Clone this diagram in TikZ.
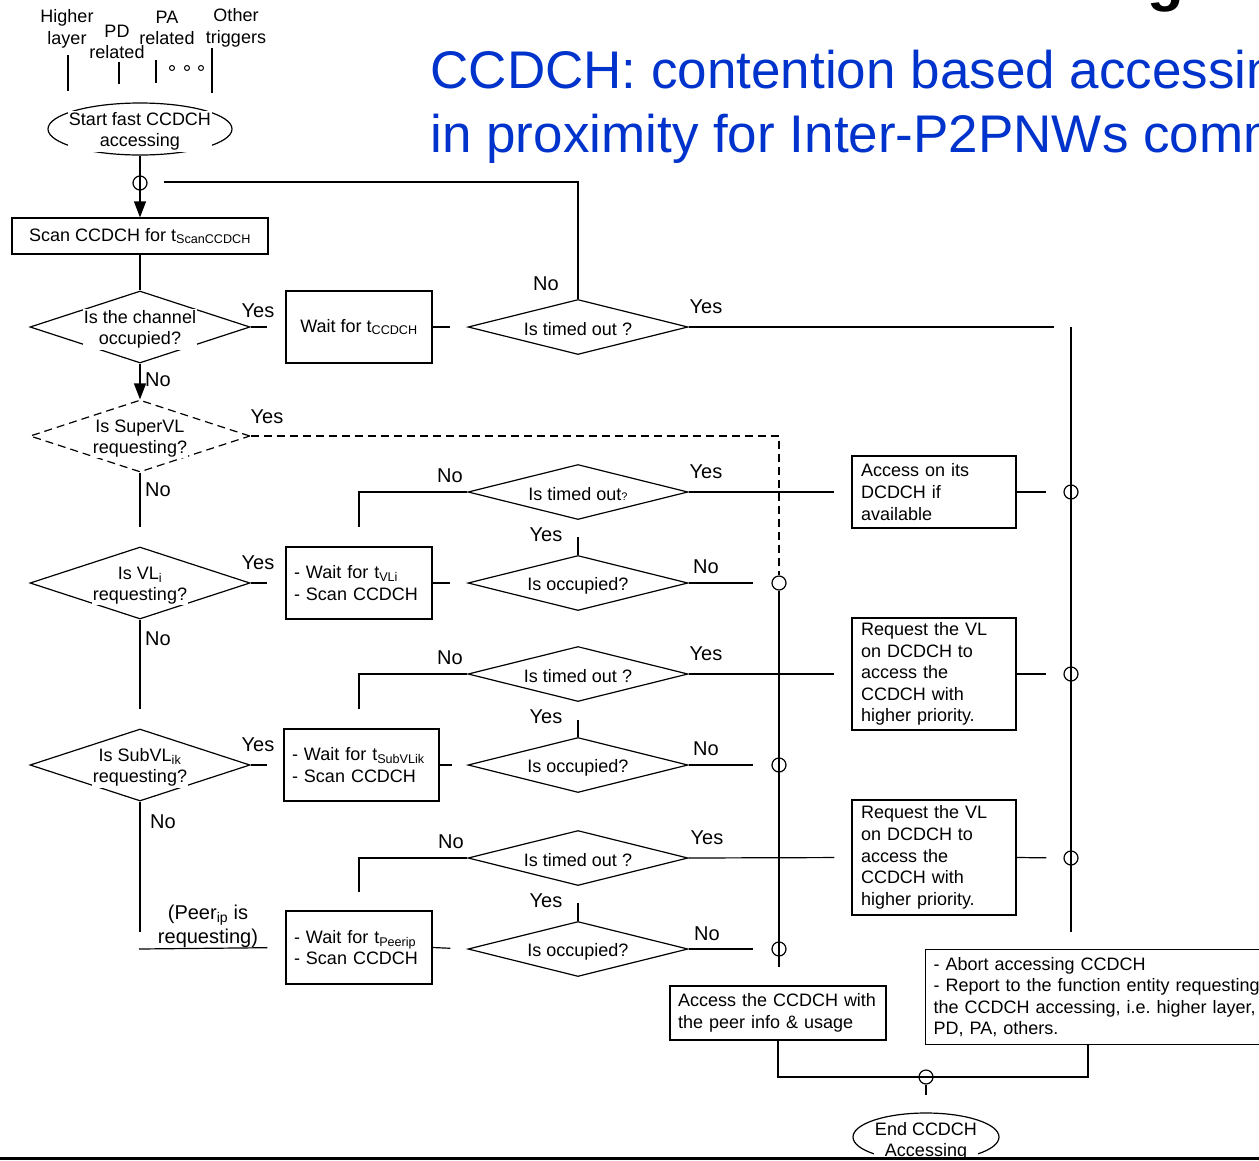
\documentclass[tikz,border=0pt]{standalone}
\usepackage{fontspec}
\setmainfont{Liberation Sans}
\usetikzlibrary{shapes.geometric,arrows.meta}
\definecolor{titleblue}{RGB}{0,51,204}
\begin{document}
\begin{tikzpicture}[x=1pt,y=-1pt,line width=1.2pt,
  every node/.style={font=\fontsize{18}{21.6}\selectfont},
  lbl/.style={font=\fontsize{20}{24}\selectfont,inner sep=0pt},
  txt/.style={fill=white,inner sep=1pt,align=center,yshift=-2.5pt},
  boxc/.style={draw,rectangle,inner sep=0pt,align=center},
  boxl/.style={draw,rectangle,inner sep=0pt,align=left},
  decbig/.style={draw,diamond,inner sep=0pt,minimum width=220pt,minimum height=72pt},
  decsm/.style={draw,diamond,inner sep=0pt,minimum width=220pt,minimum height=55pt},
  term/.style={draw,ellipse,inner sep=0pt},
  junc/.style={draw,circle,inner sep=0pt,minimum size=14pt},
  arr/.style={-{Triangle[length=16pt,width=12pt]}},
  dsh/.style={dash pattern=on 8pt off 5pt}
]
\useasboundingbox (0,0) rectangle (1259,1160);
\clip (0,0) rectangle (1259,1160);

% heading remnants
\node[anchor=base,font=\fontsize{60}{60}\selectfont\bfseries,inner sep=0pt] (hg) at (1166,-1) {g};
\node[anchor=base west,inner sep=0pt,text=titleblue,font=\fontsize{53}{60}\selectfont] (t1) at (430,88) {CCDCH: contention based accessing};
\node[anchor=base west,inner sep=0pt,text=titleblue,font=\fontsize{53}{60}\selectfont] (t2) at (430,152) {in proximity for Inter-P2PNWs communication};

% triggers
\node[align=center,inner sep=0pt] (trg1) at (67,29) {Higher\\layer};
\node[align=center,inner sep=0pt] (trg2) at (117,42) {PD\\related};
\node[align=center,inner sep=0pt] (trg3) at (167,28) {PA\\related};
\node[align=center,inner sep=0pt] (trg4) at (236,28) {Other\\triggers};
\draw (68,55) -- (68,91);
\draw (119,62) -- (119,84);
\draw (156,60) -- (156,83);
\draw (212,48) -- (212,93);
\draw[line width=1pt] (172,68) circle (2.5) (187,68) circle (2.5) (201,68) circle (2.5);

% start
\node[term,minimum width=184pt,minimum height=52pt] (start) at (140,129) {};
\node[txt] (startt) at (140,129) {Start fast CCDCH\\accessing};

\node[boxc,minimum width=256pt,minimum height=36pt] (scan) at (140,236) {Scan CCDCH for t\textsubscript{ScanCCDCH}};
\node[junc] (c0) at (140,183) {};
\draw[arr] (start.south) -- (scan.north);
\coordinate (lp) at (164,182);

% row 1
\node[decbig] (d1) at (140,327) {};
\node[txt] (d1t) at (140,327) {Is the channel\\occupied?};
\node[boxc,minimum width=146pt,minimum height=72pt] (w1) at (359,327) {Wait for t\textsubscript{CCDCH}};
\node[decsm] (to1) at (578,327) {};
\node[txt] (to1t) at (578,327) {Is timed out ?};
\coordinate (to1end) at (1054,327);
\draw (scan.south) -- (d1.north);
\draw[shorten >=18pt] (d1.east) -- (w1.west);
\draw[shorten >=17pt] (w1.east) -- (to1.west);
\draw (lp) -| (to1.north);
\draw (to1.east) -- (to1end);
\node[lbl] at (258,311) {Yes};
\node[lbl] at (546,284) {No};
\node[lbl] at (706,307) {Yes};

% right bus
\coordinate (bustop) at (1071,327);
\coordinate (busbot) at (1071,932);
\draw (bustop) -- (busbot);
\node[junc] (c2) at (1071,492) {};
\node[junc] (c4) at (1071,674) {};
\node[junc] (c6) at (1071,858) {};

% SuperVL
\node[decbig,dsh] (d2) at (140,436) {};
\node[txt] (d2t) at (140,436) {Is SuperVL\\requesting?};
\draw[arr] (d1.south) -- (d2.north);
\node[lbl] at (158,380) {No};
\node[lbl] at (267,417) {Yes};
\node[lbl] at (158,490) {No};

% middle bus
\node[junc] (c1) at (779,583) {};
\node[junc] (c3) at (779,765) {};
\node[junc] (c5) at (779,949) {};
\coordinate (bus2bot) at (779,967);
\draw[dsh] (d2.east) -| (c1.north);
\draw (c1.south) -- (bus2bot);

% VL_i
\node[decbig] (d3) at (140,583) {};
\node[txt] (d3t) at (140,583) {Is VL\textsubscript{i}\\requesting?};
\node[boxl,minimum width=146pt,minimum height=72pt,text width=130pt] (vl) at (359,583) {- Wait for t\textsubscript{VLi}\\- Scan CCDCH};
\node[decsm] (occ1) at (578,583) {};
\node[txt] (occ1t) at (578,583) {Is occupied?};
\node[decsm] (to2) at (578,492) {};
\node[txt] (to2t) at (578,492) {Is timed out{\fontsize{11}{11}\selectfont ?}};
\node[boxl,minimum width=164pt,minimum height=72pt,text width=146pt] (acc) at (934,492) {Access on its\\DCDCH if\\available};
\draw[shorten >=19pt] (d2.south) -- (d3.north);
\draw[shorten >=18pt] (d3.east) -- (vl.west);
\draw[shorten >=17pt] (vl.east) -- (occ1.west);
\draw[shorten >=18pt] (occ1.east) -- (c1.west);
\draw[shorten <=17pt] (to2.south) -- (occ1.north);
\draw[shorten >=19pt] (to2.west) -| (vl.north);
\draw[shorten >=17pt] (to2.east) -- (acc.west);
\draw[shorten >=17pt] (acc.east) -- (c2.west);
\node[lbl] at (258,563) {Yes};
\node[lbl] at (158,639) {No};
\node[lbl] at (450,476) {No};
\node[lbl] at (706,472) {Yes};
\node[lbl] at (546,535) {Yes};
\node[lbl] at (706,567) {No};

% SubVL
\node[decbig] (d4) at (140,765) {};
\node[txt] (d4t) at (140,765) {Is SubVL\textsubscript{ik}\\requesting?};
\node[boxl,minimum width=155pt,minimum height=72pt,text width=139pt] (sub) at (361.5,765) {- Wait for t\textsubscript{SubVLik}\\- Scan CCDCH};
\node[decsm] (occ2) at (578,765) {};
\node[txt] (occ2t) at (578,765) {Is occupied?};
\node[decsm] (to3) at (578,674) {};
\node[txt] (to3t) at (578,674) {Is timed out ?};
\node[boxl,minimum width=164pt,minimum height=112pt,text width=146pt] (req1) at (934,674) {Request the VL\\on DCDCH to\\access the\\CCDCH with\\higher priority.};
\draw[shorten >=19pt] (d3.south) -- (d4.north);
\draw[shorten >=16pt] (d4.east) -- (sub.west);
\draw[shorten >=15pt] (sub.east) -- (occ2.west);
\draw[shorten >=18pt] (occ2.east) -- (c3.west);
\draw[shorten <=18pt] (to3.south) -- (occ2.north);
\draw[shorten >=19pt] (to3.west) -| ([xshift=-2.5pt]sub.north);
\draw[shorten >=17pt] (to3.east) -- (req1.west);
\draw[shorten >=17pt] (req1.east) -- (c4.west);
\node[lbl] at (258,745) {Yes};
\node[lbl] at (163,822) {No};
\node[lbl] at (450,658) {No};
\node[lbl] at (706,654) {Yes};
\node[lbl] at (546,717) {Yes};
\node[lbl] at (706,749) {No};

% Peer
\coordinate (pv) at (140,932);
\coordinate (ph) at (139,949);
\node[lbl,align=center] (peert) at (208,926) {(Peer\textsubscript{ip} is\\requesting)};
\node[boxl,minimum width=146pt,minimum height=73pt,text width=130pt] (peer) at (359,947.5) {- Wait for t\textsubscript{Peerip}\\- Scan CCDCH};
\node[decsm] (occ3) at (578,949) {};
\node[txt] (occ3t) at (578,949) {Is occupied?};
\node[decsm] (to4) at (578,858) {};
\node[txt] (to4t) at (578,858) {Is timed out ?};
\node[boxl,minimum width=164pt,minimum height=115pt,text width=146pt] (req2) at (934,857.5) {Request the VL\\on DCDCH to\\access the\\CCDCH with\\higher priority.};
\draw (d4.south) -- (pv);
\draw[shorten >=18pt] (ph) -- (peer.west);
\draw[shorten >=17pt] (peer.east) -- (occ3.west);
\draw[shorten >=18pt] (occ3.east) -- (c5.west);
\draw[shorten <=17pt] (to4.south) -- (occ3.north);
\draw[shorten >=18pt] (to4.west) -| (peer.north);
\draw[shorten >=17pt] (to4.east) -- (req2.west);
\draw[shorten >=17pt] (req2.east) -- (c6.west);
\node[lbl] at (451,842) {No};
\node[lbl] at (707,838) {Yes};
\node[lbl] at (546,901) {Yes};
\node[lbl] at (707,934) {No};

% bottom
\node[boxl,minimum width=216pt,minimum height=54pt,text width=200pt] (accpeer) at (778,1013) {Access the CCDCH with\\the peer info \& usage};
\node[draw,rectangle,anchor=north west,inner xsep=8pt,inner ysep=0pt,text width=340pt,minimum height=95pt,align=left] (abort) at (925,949) {- Abort accessing CCDCH\\- Report to the function entity requesting\\the CCDCH accessing, i.e.\ higher layer,\\PD, PA, others.};
\coordinate (abx) at (1088,1044);
\node[junc] (cj) at (926,1077) {};
\coordinate (jend) at (926,1095);
\draw (accpeer.south) |- (cj.center) -| (abx);
\draw (cj.south) -- (jend);
\node[term,minimum width=146pt,minimum height=48pt] (endn) at (926,1137) {};
\node[txt] (endt) at (926,1139) {End CCDCH\\Accessing};
\draw[line width=3pt] (0,1158) -- (1259,1158);
\end{tikzpicture}
\end{document}
